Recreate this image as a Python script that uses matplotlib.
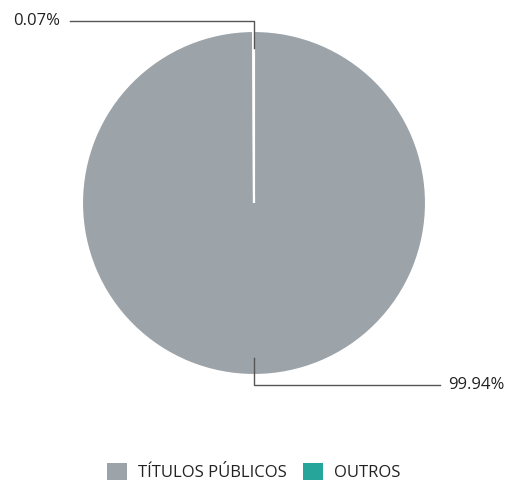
import numpy as np
import matplotlib.pyplot as plt
from matplotlib.patches import Patch

plt.rcParams['font.family'] = ['Open Sans', 'DejaVu Sans']

categories = ['TÍTULOS PÚBLICOS', 'OUTROS']
values = [99.94, 0.07]
labels = ['99.94%', '0.07%']
colors = ['#9ca3a9', '#26a69a']

W, H = 507, 484
fig = plt.figure(figsize=(W / 100, H / 100), dpi=100)
ax = fig.add_axes([0, 0, 1, 1])

cx, cy, r = 254, H - 203, 172
wedges, _ = ax.pie(values, colors=colors, startangle=90, counterclock=False,
                   center=(cx, cy), radius=r,
                   wedgeprops=dict(edgecolor='white', linewidth=1.5))
ax.set_xlim(0, W)
ax.set_ylim(0, H)
ax.set_aspect('equal')
ax.axis('off')

# leader lines: vertical from inside the wedge, then horizontal to the label
for w, lab in zip(wedges, labels):
    mid = np.deg2rad((w.theta1 + w.theta2) / 2)
    up = np.sin(mid) > 0
    sy = 1 if up else -1
    y0 = cy + sy * r * 0.90
    y1 = cy + sy * (r + 10)
    if up:
        x1 = 70
        ax.plot([cx, cx, x1], [y0, y1, y1], color='#555555', lw=1)
        ax.text(x1 - 10, y1, lab, ha='right', va='center', fontsize=12, color='#222222')
    else:
        x1 = 440
        ax.plot([cx, cx, x1], [y0, y1, y1], color='#555555', lw=1)
        ax.text(x1 + 8, y1, lab, ha='left', va='center', fontsize=12, color='#222222')

handles = [Patch(facecolor=c, edgecolor='none') for c in colors]
fig.legend(handles, categories, loc='center', bbox_to_anchor=(0.5, 1 - 472 / H),
           ncol=2, frameon=False, fontsize=12, handlelength=1.2, handleheight=1.2,
           handletextpad=0.66, columnspacing=1.0, labelcolor='#222222',
           borderpad=0)

fig.savefig('out.png', dpi=100)
